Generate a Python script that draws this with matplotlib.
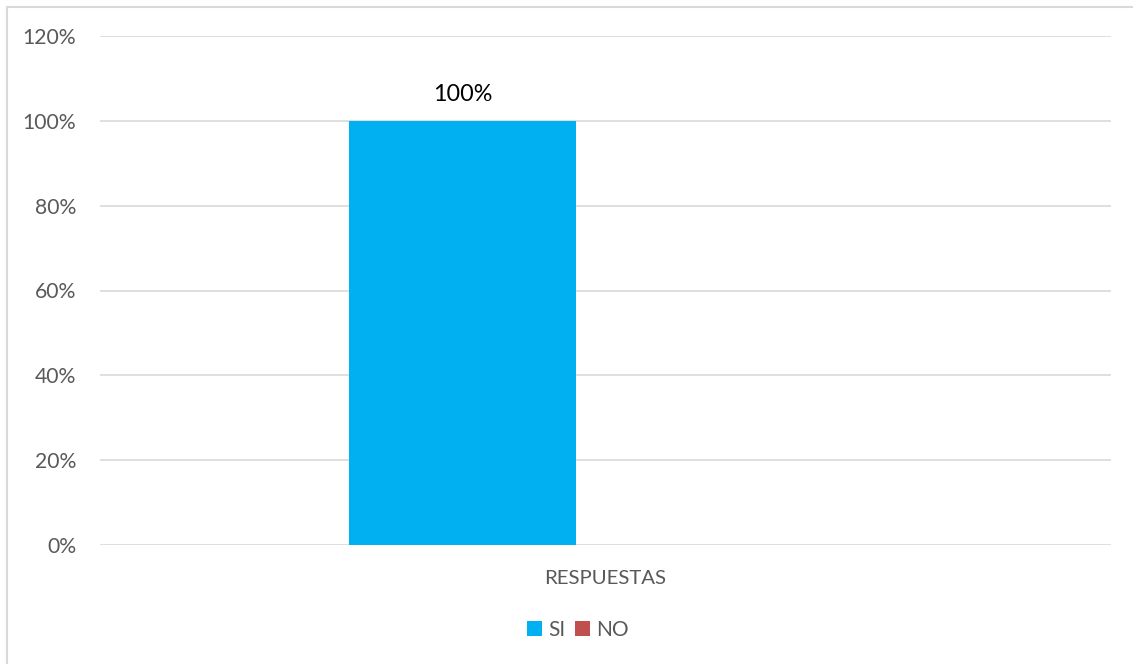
import matplotlib
matplotlib.use("Agg")
import matplotlib.pyplot as plt
from matplotlib.patches import Rectangle
from matplotlib.ticker import FuncFormatter

# Data
category = ["RESPUESTAS"]
series = ["SI", "NO"]
values = [1.00, 0.00]
colors = ["#00B0F0", "#C0504D"]
y_ticks = [0, 0.2, 0.4, 0.6, 0.8, 1.0, 1.2]

plt.rcParams["font.family"] = ["Lato", "DejaVu Sans"]

W, H = 1133, 664
fig = plt.figure(figsize=(W / 100, H / 100), dpi=100)
ax = fig.add_axes([100 / W, (H - 545) / H, (1111 - 100) / W, (545 - 36) / H])

# figure border like the Excel chart frame
fig.patches.append(Rectangle((7 / W, -0.01), 1.5, 1 - 7 / H + 0.01,
                             transform=fig.transFigure, fill=False,
                             edgecolor="#d9d9d9", lw=1.5))

bar_w = 227 / 1011
offsets = [-0.1414, 0.1414]
bars = []
for name, val, col, off in zip(series, values, colors, offsets):
    b = ax.bar(off, val, width=bar_w, color=col, label=name, zorder=3)
    bars.append(b)

# data label only on the visible SI bar
ax.text(offsets[0], values[0] + 0.061, f"{values[0]:.0%}", ha="center", va="center",
        fontsize=16.8, color="#000000")

ax.set_xlim(-0.5, 0.5)
ax.set_ylim(0, 1.2)
ax.set_yticks(y_ticks)
ax.yaxis.set_major_formatter(FuncFormatter(lambda v, _: f"{v:.0%}"))
ax.set_xticks([0])
ax.set_xticklabels(category)
ax.tick_params(axis="y", length=0, labelsize=15.2, colors="#595959", pad=17)
ax.tick_params(axis="x", length=0, labelsize=14.7, colors="#595959", pad=18)
ax.grid(axis="y", color="#d9d9d9", lw=1.2, zorder=0)
for s in ax.spines.values():
    s.set_visible(False)

fig.legend(handles=[b[0] for b in bars], labels=series, loc="center",
           bbox_to_anchor=(578 / W, 1 - 630 / H), ncol=2, frameon=False,
           fontsize=15, handlelength=0.7, handleheight=0.7,
           handletextpad=0.3, columnspacing=0.5, labelcolor="#595959")

fig.savefig("out.png", dpi=100)
